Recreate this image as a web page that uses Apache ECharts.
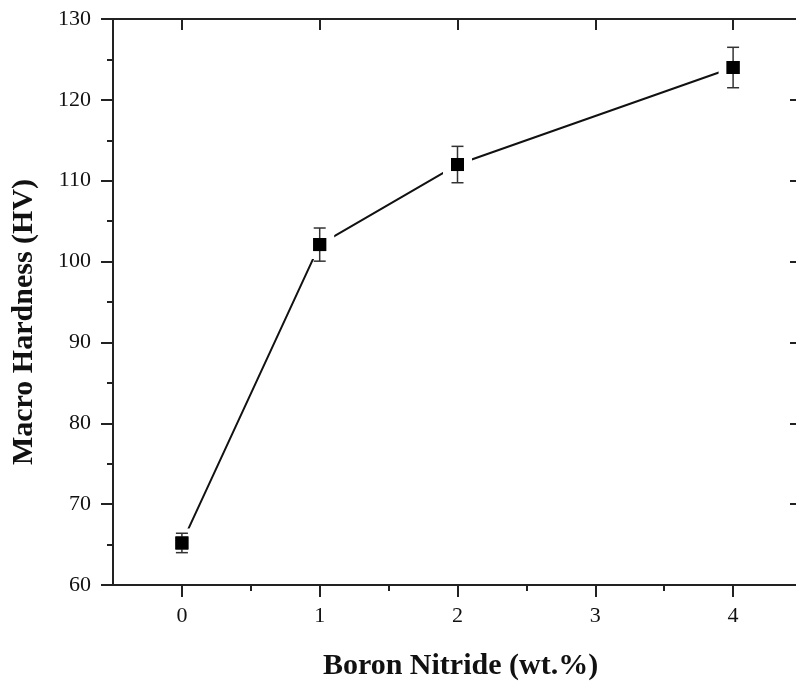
<!DOCTYPE html>
<html lang="en">

<head>
    <meta charset="UTF-8">
    <title>Macro Hardness vs Boron Nitride</title>
    <script src="https://cdn.jsdelivr.net/npm/echarts@6/dist/echarts.min.js"></script>
    <style>
        html, body { margin: 0; padding: 0; background: #fff; }
    </style>
</head>

<body>
    <div id="main" style="width: 796px;height:686px;"></div>
    <script type="text/javascript">
        // data
        var bnContent = [0, 1, 2, 4];
        var hardness = [65.2, 102.1, 112.0, 124.0];
        var hardnessErr = [1.2, 2.05, 2.25, 2.5];
        var xLabels = [0, 1, 2, 3, 4];
        var xMinorTicks = [0.5, 1.5, 2.5, 3.5];

        var font = 'Liberation Serif';
        var lineData = bnContent.map(function (x, i) { return [x, hardness[i]]; });
        var errData = bnContent.map(function (x, i) {
            return [x, hardness[i] - hardnessErr[i], hardness[i] + hardnessErr[i]];
        });

        var myChart = echarts.init(document.getElementById('main'));

        var axisLine = { show: true, onZero: false, lineStyle: { color: '#222', width: 2 } };

        myChart.setOption({
            animation: false,
            // plot box runs a little past the right edge, as in the cropped original
            grid: { left: 113, top: 19, width: 689, height: 566, outerBoundsMode: 'none', containLabel: false },
            xAxis: [{
                type: 'value', position: 'bottom', min: -0.5, max: 4.5,
                axisLine: axisLine,
                axisTick: { show: true, inside: false, length: 12, lineStyle: { width: 2, color: '#222' }, customValues: xLabels },
                axisLabel: { customValues: xLabels, fontFamily: font, fontSize: 22, color: '#111', margin: 20 },
                splitLine: { show: false },
                name: 'Boron Nitride (wt.%)', nameLocation: 'middle', nameGap: 66,
                nameTextStyle: { fontFamily: font, fontSize: 30, fontWeight: 'bold', color: '#111', padding: [0, 0, 0, 6] }
            }, {
                // minor ticks on the bottom axis
                type: 'value', position: 'bottom', min: -0.5, max: 4.5,
                axisLine: { show: false, onZero: false },
                axisTick: { show: true, inside: false, length: 6, lineStyle: { width: 2, color: '#222' }, customValues: xMinorTicks },
                axisLabel: { show: false },
                splitLine: { show: false }
            }, {
                type: 'value', position: 'top', min: -0.5, max: 4.5,
                axisLine: axisLine,
                axisTick: { show: true, inside: true, length: 11, lineStyle: { width: 2, color: '#222' }, customValues: xLabels },
                axisLabel: { show: false },
                splitLine: { show: false }
            }],
            yAxis: [{
                type: 'value', position: 'left', min: 60, max: 130, interval: 10,
                axisLine: axisLine,
                axisTick: { show: true, inside: false, length: 12, lineStyle: { width: 2, color: '#222' } },
                minorTick: { show: true, splitNumber: 2, length: 6, lineStyle: { width: 2, color: '#222' } },
                axisLabel: { fontFamily: font, fontSize: 22, color: '#111', margin: 22 },
                splitLine: { show: false },
                name: 'Macro Hardness (HV)', nameLocation: 'middle', nameGap: 74,
                nameTextStyle: { fontFamily: font, fontSize: 30, fontWeight: 'bold', color: '#111', padding: [0, 40, 0, 0] }
            }, {
                type: 'value', position: 'right', min: 60, max: 130, interval: 10,
                axisLine: axisLine,
                axisTick: { show: true, inside: true, length: 12, lineStyle: { width: 2, color: '#222' } },
                minorTick: { show: true, splitNumber: 2, length: 6, lineStyle: { width: 1, color: '#999' } },
                axisLabel: { show: false },
                splitLine: { show: false }
            }],
            series: [{
                type: 'line',
                data: lineData,
                symbol: 'rect',
                symbolSize: 21,
                lineStyle: { color: '#111', width: 2 },
                itemStyle: { color: '#000', borderColor: '#fff', borderWidth: 8 },
                z: 2
            }, {
                type: 'custom',
                data: errData,
                z: 3,
                renderItem: function (params, api) {
                    var x = api.value(0);
                    var lo = api.coord([x, api.value(1)]);
                    var hi = api.coord([x, api.value(2)]);
                    var mid = api.coord([x, (api.value(1) + api.value(2)) / 2]);
                    var cap = 6;
                    var style = { stroke: '#333', lineWidth: 1.5 };
                    return {
                        type: 'group',
                        children: [
                            { type: 'line', shape: { x1: lo[0], y1: lo[1], x2: hi[0], y2: hi[1] }, style: style },
                            { type: 'line', shape: { x1: lo[0] - cap, y1: lo[1], x2: lo[0] + cap, y2: lo[1] }, style: style },
                            { type: 'line', shape: { x1: hi[0] - cap, y1: hi[1], x2: hi[0] + cap, y2: hi[1] }, style: style },
                            { type: 'rect', shape: { x: mid[0] - 6.5, y: mid[1] - 6.5, width: 13, height: 13 }, style: { fill: '#000' } }
                        ]
                    };
                }
            }]
        });
    </script>
</body>

</html>
